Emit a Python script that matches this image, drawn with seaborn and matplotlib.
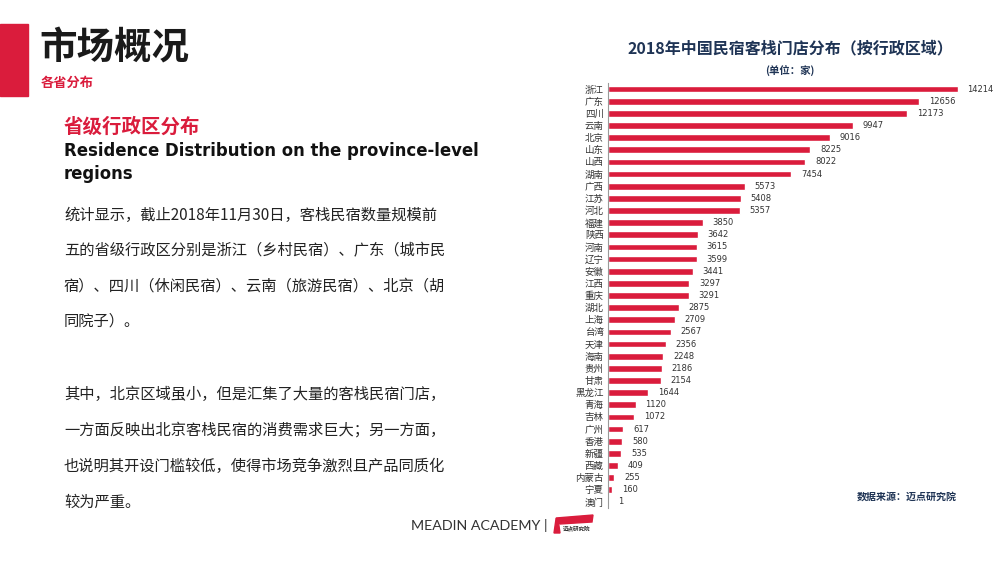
import numpy as np
import pandas as pd
import matplotlib.pyplot as plt
import seaborn as sns
from matplotlib.patches import Rectangle, Polygon

# 数据：2018年中国民宿客栈门店分布（按行政区域）
regions = ['浙江', '广东', '四川', '云南', '北京', '山东', '山西', '湖南', '广西', '江苏',
           '河北', '福建', '陕西', '河南', '辽宁', '安徽', '江西', '重庆', '湖北', '上海',
           '台湾', '天津', '海南', '贵州', '甘肃', '黑龙江', '青海', '吉林', '广州', '香港',
           '新疆', '西藏', '内蒙古', '宁夏', '澳门']
stores = [14214, 12656, 12173, 9947, 9016, 8225, 8022, 7454, 5573, 5408,
          5357, 3850, 3642, 3615, 3599, 3441, 3297, 3291, 2875, 2709,
          2567, 2356, 2248, 2186, 2154, 1644, 1120, 1072, 617, 580,
          535, 409, 255, 160, 1]

body_lines_1 = ['统计显示，截止2018年11月30日，客栈民宿数量规模前',
                '五的省级行政区分别是浙江（乡村民宿）、广东（城市民',
                '宿）、四川（休闲民宿）、云南（旅游民宿）、北京（胡',
                '同院子）。']
body_lines_2 = ['其中，北京区域虽小，但是汇集了大量的客栈民宿门店，',
                '一方面反映出北京客栈民宿的消费需求巨大；另一方面，',
                '也说明其开设门槛较低，使得市场竞争激烈且产品同质化',
                '较为严重。']

sns.set_style('white')
plt.rcParams['font.family'] = ['Noto Sans CJK SC', 'DejaVu Sans']

RED = '#DA1C3C'
NAVY = '#1F3455'

df = pd.DataFrame({'地区': regions, '门店数': stores})

fig = plt.figure(figsize=(10, 5.62), dpi=100)
W, H = 1000, 562

def px(x, y):
    return x / W, 1 - y / H

# 右侧条形图
ax = fig.add_axes([0.608, 1 - 508 / H, 0.369, (508 - 83) / H])
sns.barplot(data=df, x='门店数', y='地区', orient='h', color=RED,
            width=0.55, saturation=1, ax=ax)
ax.set_xlim(0, 15000)
ax.set_ylim(len(regions) - 0.5, -0.5)
ax.set_xlabel('')
ax.set_ylabel('')
ax.set_xticks([])
for s in ['top', 'right', 'bottom']:
    ax.spines[s].set_visible(False)
ax.spines['left'].set_color('#9A9A9A')
ax.spines['left'].set_linewidth(0.8)
ax.tick_params(axis='y', length=0, pad=3, labelsize=6.8, labelcolor='#333333')
ax.set_yticks(np.arange(len(regions) + 1) - 0.5, minor=True)
ax.tick_params(axis='y', which='minor', length=3, color='#9A9A9A', width=0.6)
ax.bar_label(ax.containers[0], padding=7, fontsize=6.0, color='#333333',
             family=['DejaVu Sans'])

# 图表标题
fig.text(*px(790, 48), '2018年中国民宿客栈门店分布（按行政区域）', ha='center', va='center',
         fontsize=11.5, fontweight='bold', color=NAVY)
fig.text(*px(790, 71), '(单位：家)', ha='center', va='center',
         fontsize=7.5, fontweight='bold', color=NAVY)
fig.text(*px(957, 497), '数据来源：迈点研究院', ha='right', va='center',
         fontsize=7.2, fontweight='bold', color=NAVY)

# 左侧页眉
fig.patches.append(Rectangle(px(0, 96), 28 / W, 72 / H, transform=fig.transFigure,
                             color=RED, zorder=1))
fig.text(*px(39, 47), '市场概况', ha='left', va='center', fontsize=27,
         fontweight='black', color='#1A1A1A')
fig.text(*px(41, 83), '各省分布', ha='left', va='center', fontsize=9.5,
         fontweight='bold', color=RED)

# 左侧正文
fig.text(*px(64, 127), '省级行政区分布', ha='left', va='center', fontsize=14,
         fontweight='bold', color=RED)
fig.text(*px(64, 151), 'Residence Distribution on the province-level', ha='left',
         va='center', fontsize=11.9, fontweight='bold', color='#111111',
         family=['DejaVu Sans'])
fig.text(*px(64, 174), 'regions', ha='left', va='center', fontsize=11.9,
         fontweight='bold', color='#111111', family=['DejaVu Sans'])

for i, line in enumerate(body_lines_1):
    fig.text(*px(64, 215 + i * 35.5), line, ha='left', va='center',
             fontsize=11, color='#222222')
for i, line in enumerate(body_lines_2):
    fig.text(*px(64, 394 + i * 36), line, ha='left', va='center',
             fontsize=11, color='#222222')

# 页脚
fig.text(*px(411, 526), 'MEADIN ACADEMY |', ha='left', va='center', fontsize=10.3,
         color='#333333', family=['Lato', 'DejaVu Sans'])
fig.patches.append(Polygon([px(556, 518), px(593, 515), px(592, 522), px(560, 524)],
                           closed=True, transform=fig.transFigure, color=RED))
fig.patches.append(Polygon([px(554, 533), px(556, 519), px(558, 519), px(560, 533)],
                           closed=True, transform=fig.transFigure, color=RED))
fig.text(*px(563, 529), '迈点研究院', ha='left', va='center', fontsize=4,
         fontweight='bold', color='#333333')

fig.savefig('out.png', dpi=100)
